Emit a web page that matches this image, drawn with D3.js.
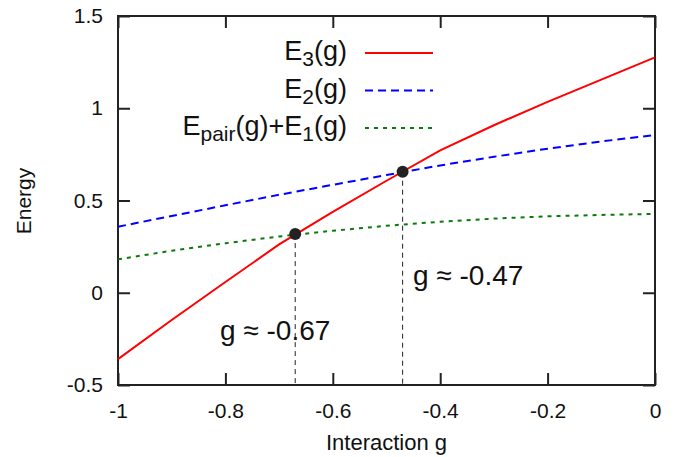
<!DOCTYPE html>
<html lang="en">
<head>
<meta charset="UTF-8">
<title>Energy vs interaction g</title>
<style>
    body { margin: 0; padding: 0; background: #fff; }
    svg { display: block; }
    text { font-family: "Liberation Sans", Arial, sans-serif; fill: #111; }
</style>
</head>
<body>
<svg width="682" height="457"></svg>
<script src="https://d3js.org/d3.v7.min.js"></script>
<script>
    // values
    const gGrid = [-1, -0.9, -0.8, -0.7, -0.6, -0.5, -0.4, -0.3, -0.2, -0.1, 0];
    const e3Values = [-0.36, -0.148, 0.058, 0.262, 0.438, 0.607, 0.772, 0.908, 1.035, 1.155, 1.276];
    const e2Values = [0.358, 0.416, 0.474, 0.531, 0.585, 0.638, 0.690, 0.737, 0.781, 0.820, 0.855];
    const pairValues = [0.181, 0.228, 0.268, 0.305, 0.336, 0.363, 0.385, 0.402, 0.414, 0.422, 0.427];

    const crossG = [-0.67, -0.47];
    const crossE = [0.318, 0.656];
    const crossLabels = ["g \u2248 -0.67", "g \u2248 -0.47"];

    const xTicks = [-1, -0.8, -0.6, -0.4, -0.2, 0];
    const yTicks = [-0.5, 0, 0.5, 1, 1.5];

    const svg = d3.select("svg");
    const plotLeft = 118, plotRight = 655, plotTop = 16, plotBottom = 385;

    const x = d3.scaleLinear().domain([-1, 0]).range([plotLeft, plotRight]);
    const y = d3.scaleLinear().domain([-0.5, 1.5]).range([plotBottom, plotTop]);

    const tickLen = 12;
    const axisColor = "#222";

    // axes: inward ticks, mirrored on the other side
    const fmt = d => String(d);

    svg.append("g")
        .attr("transform", `translate(0,${plotBottom})`)
        .call(d3.axisBottom(x).tickValues(xTicks).tickSize(-tickLen).tickPadding(18).tickFormat(fmt))
        .call(g => g.select(".domain").remove());
    svg.append("g")
        .attr("transform", `translate(0,${plotTop})`)
        .call(d3.axisTop(x).tickValues(xTicks).tickSize(-tickLen).tickFormat(""))
        .call(g => g.select(".domain").remove());
    svg.append("g")
        .attr("transform", `translate(${plotLeft},0)`)
        .call(d3.axisLeft(y).tickValues(yTicks).tickSize(-tickLen).tickPadding(15).tickFormat(fmt))
        .call(g => g.select(".domain").remove());
    svg.append("g")
        .attr("transform", `translate(${plotRight},0)`)
        .call(d3.axisRight(y).tickValues(yTicks).tickSize(-tickLen).tickFormat(""))
        .call(g => g.select(".domain").remove());

    svg.selectAll(".tick line").attr("stroke", axisColor).attr("stroke-width", 2);
    svg.selectAll(".tick text")
        .style("font-family", "'Liberation Sans', Arial, sans-serif")
        .attr("font-size", 21)
        .attr("fill", "#111");

    // frame
    svg.append("rect")
        .attr("x", plotLeft).attr("y", plotTop)
        .attr("width", plotRight - plotLeft).attr("height", plotBottom - plotTop)
        .attr("fill", "none").attr("stroke", axisColor).attr("stroke-width", 2);

    // vertical dashed markers from crossing down to axis
    svg.selectAll(".marker")
        .data(crossG)
        .enter()
        .append("line")
        .attr("class", "marker")
        .attr("x1", d => x(d)).attr("x2", d => x(d))
        .attr("y1", (d, i) => y(crossE[i]))
        .attr("y2", plotBottom)
        .attr("stroke", "#222")
        .attr("stroke-width", 1)
        .attr("stroke-dasharray", "5,4");

    const line = d3.line().x(d => x(d[0])).y(d => y(d[1]));

    const series = [
        { pts: d3.zip(gGrid, pairValues), color: "#0b7a0b", dash: "4,5" },
        { pts: d3.zip(gGrid, e2Values), color: "#0000ff", dash: "8,5" },
        { pts: d3.zip(gGrid, e3Values), color: "#ff0000", dash: null }
    ];

    series.forEach(s => {
        svg.append("path")
            .datum(s.pts)
            .attr("d", line)
            .attr("fill", "none")
            .attr("stroke", s.color)
            .attr("stroke-width", 2)
            .attr("stroke-dasharray", s.dash);
    });

    // crossing dots
    svg.selectAll(".dot")
        .data(crossG)
        .enter()
        .append("circle")
        .attr("class", "dot")
        .attr("cx", d => x(d))
        .attr("cy", (d, i) => y(crossE[i]))
        .attr("r", 6)
        .attr("fill", "#222");

    // annotation labels
    const labelPos = [[220, 340], [413, 285]];
    svg.selectAll(".ann")
        .data(crossLabels)
        .enter()
        .append("text")
        .attr("class", "ann")
        .attr("x", (d, i) => labelPos[i][0])
        .attr("y", (d, i) => labelPos[i][1])
        .attr("font-size", 28)
        .text(d => d);

    // legend
    const legendRows = [
        { main: "E", sub: "3", rest: "(g)", color: "#ff0000", dash: null },
        { main: "E", sub: "2", rest: "(g)", color: "#0000ff", dash: "8,5" },
        { main: "E", sub: "pair", rest: "(g)+E", sub2: "1", rest2: "(g)", color: "#0b7a0b", dash: "4,5" }
    ];
    legendRows.forEach((r, i) => {
        const by = 60 + i * 37.5;
        const t = svg.append("text")
            .attr("x", 347).attr("y", by)
            .attr("text-anchor", "end")
            .attr("font-size", 27);
        t.append("tspan").text(r.main);
        t.append("tspan").attr("dy", 6).attr("font-size", 21).text(r.sub);
        t.append("tspan").attr("dy", -6).text(r.rest);
        if (r.sub2) {
            t.append("tspan").attr("dy", 6).attr("font-size", 21).text(r.sub2);
            t.append("tspan").attr("dy", -6).text(r.rest2);
        }
        svg.append("line")
            .attr("x1", 365).attr("x2", 433)
            .attr("y1", by - 7).attr("y2", by - 7)
            .attr("stroke", r.color)
            .attr("stroke-width", 2)
            .attr("stroke-dasharray", r.dash);
    });

    // axis titles
    svg.append("text")
        .attr("x", (plotLeft + plotRight) / 2)
        .attr("y", 450)
        .attr("text-anchor", "middle")
        .attr("font-size", 22)
        .text("Interaction g");
    svg.append("text")
        .attr("transform", "translate(31,201) rotate(-90)")
        .attr("text-anchor", "middle")
        .attr("font-size", 21)
        .text("Energy");
</script>
</body>
</html>
